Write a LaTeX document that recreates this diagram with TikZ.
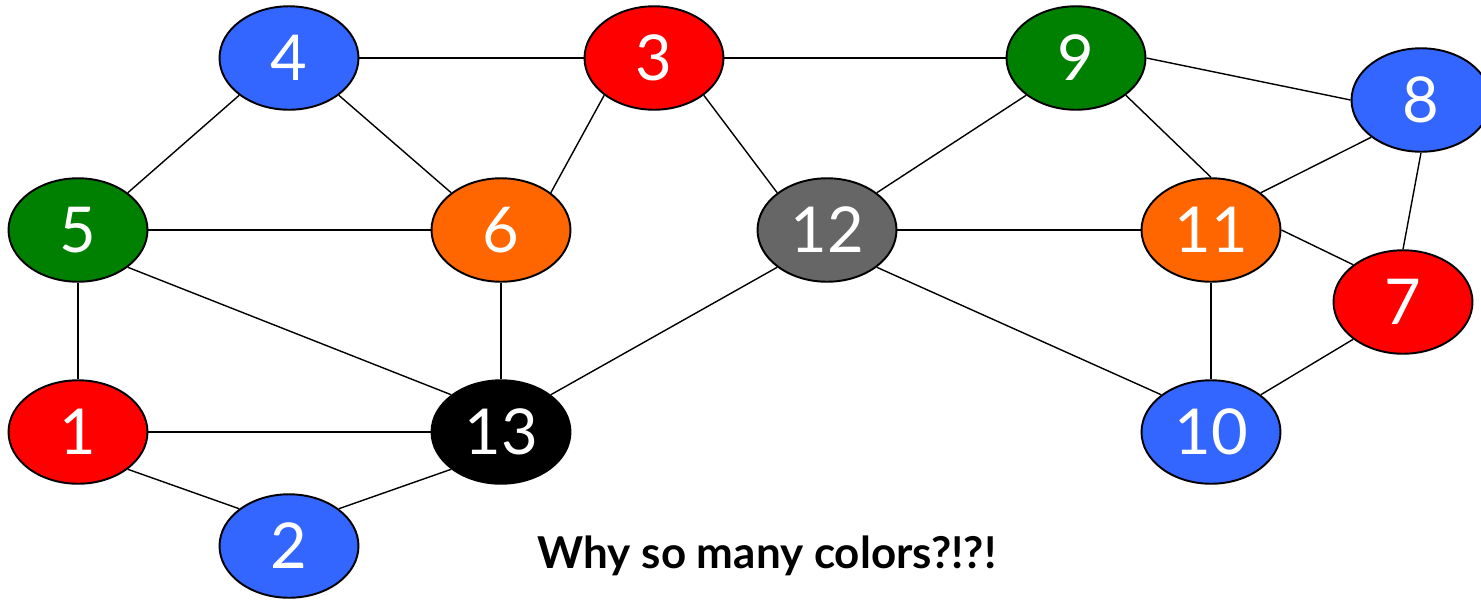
\documentclass[tikz,border=0pt]{standalone}
\usepackage{fontspec}
\setmainfont{Lato}
\usetikzlibrary{shapes.geometric}
\definecolor{cblue}{HTML}{3366FF}
\definecolor{cred}{HTML}{FF0000}
\definecolor{cgreen}{HTML}{008000}
\definecolor{corange}{HTML}{FF6600}
\definecolor{cgray}{HTML}{666666}
\begin{document}
\begin{tikzpicture}[x=0.02cm,y=-0.02cm,
  vtx/.style={ellipse,draw=black,line width=1.1pt,minimum width=2.78cm,minimum height=2.07cm,inner sep=0pt,text=white,font=\fontsize{36}{40}\selectfont},
  edge/.style={line width=0.8pt,black}]
\useasboundingbox (0,0) rectangle (1481,600);
\node[vtx,fill=cblue] (n4) at (289,58) {4};
\node[vtx,fill=cred] (n3) at (654,58) {3};
\node[vtx,fill=cgreen] (n9) at (1076,58) {9};
\node[vtx,fill=cblue] (n8) at (1421,100) {8};
\node[vtx,fill=cgreen] (n5) at (78,230) {5};
\node[vtx,fill=corange] (n6) at (501,230) {6};
\node[vtx,fill=cgray] (n12) at (827,230) {12};
\node[vtx,fill=corange] (n11) at (1211,230) {11};
\node[vtx,fill=cred] (n7) at (1403,302) {7};
\node[vtx,fill=cred] (n1) at (78,432) {1};
\node[vtx,fill=black] (n13) at (501,432) {13};
\node[vtx,fill=cblue] (n10) at (1211,432) {10};
\node[vtx,fill=cblue] (n2) at (289,546) {2};
\node[font=\bfseries\fontsize{25}{29}\selectfont] (cap) at (767,556) {Why so many colors?!?!};
\foreach \a/\b in {n4.east/n3.west, n3.east/n9.west, n9.east/n8.west,
  n4.south west/n5.north east, n4.south east/n6.north west,
  n3.south west/n6.north east, n3.south east/n12.north west,
  n9.south west/n12.north east, n9.south east/n11.north,
  n8.south west/n11.north east, n8.south/n7.north,
  n5.east/n6.west, n12.east/n11.west, n11.east/n7.north west,
  n5.south east/n13.north west, n5.south/n1.north, n6.south/n13.north,
  n12.south west/n13.north east, n12.south east/n10.north west,
  n11.south/n10.north, n7.south west/n10.north east,
  n1.east/n13.west, n1.south east/n2.north west, n2.north east/n13.south west}
  \draw[edge] (\a) -- (\b);
\end{tikzpicture}
\end{document}
